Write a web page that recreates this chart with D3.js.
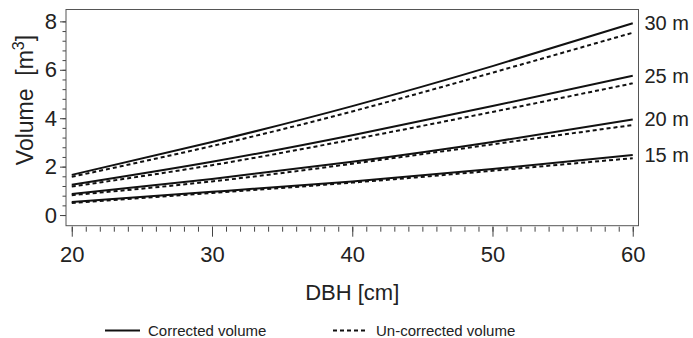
<!DOCTYPE html>
<html>
<head>
<meta charset="utf-8">
<script src="https://cdn.jsdelivr.net/npm/d3@7"></script>
<style>
  body { margin: 0; background: #fff; }
  text { font-family: "Liberation Sans", Arial, sans-serif; fill: #222; }
  .axis path { display: none; }
  .axis line { stroke: #444; }
</style>
</head>
<body>
<script>
// Chart values
var dbh = [20, 30, 40, 50, 60];
var heights = ["15 m", "20 m", "25 m", "30 m"];

var corrected = [
    [0.54, 0.96, 1.39, 1.90, 2.48],
    [0.87, 1.49, 2.20, 3.02, 3.95],
    [1.25, 2.20, 3.30, 4.50, 5.75],
    [1.66, 3.02, 4.50, 6.15, 7.92]
];
var uncorrected = [
    [0.50, 0.91, 1.34, 1.83, 2.35],
    [0.82, 1.39, 2.12, 2.92, 3.72],
    [1.18, 2.06, 3.12, 4.26, 5.44],
    [1.58, 2.85, 4.28, 5.88, 7.53]
];

var xMajor = [20, 30, 40, 50, 60];
var yMajor = [0, 2, 4, 6, 8];
var legendLabels = ["Corrected volume", "Un-corrected volume"];

// Set up the SVG
var svg_width = 693;
var svg_height = 338;

var svg = d3.select("body").append("svg")
    .attr("width", svg_width)
    .attr("height", svg_height)
    .attr("font-family", "Liberation Sans, Arial, sans-serif");

// Plot box
var box = { left: 66, right: 638.5, top: 9.5, bottom: 225.7 };

var x = d3.scaleLinear()
    .domain([19.59, 60.41])
    .range([box.left, box.right]);

var y = d3.scaleLinear()
    .domain([-0.44, 8.49])
    .range([box.bottom, box.top]);

// Minor and major ticks on the x axis
svg.append("g")
    .attr("class", "axis")
    .attr("transform", "translate(0," + (box.bottom + 1) + ")")
    .call(d3.axisBottom(x).tickValues(d3.range(20, 61, 1)).tickSize(5).tickFormat(""));

var xAxis = svg.append("g")
    .attr("class", "axis")
    .attr("transform", "translate(0," + (box.bottom + 1) + ")")
    .call(d3.axisBottom(x).tickValues(xMajor).tickSize(10).tickPadding(10));
xAxis.selectAll("text")
    .style("font-size", "22px")
    .attr("fill", "#222");

// Minor and major ticks on the y axis
svg.append("g")
    .attr("class", "axis")
    .attr("transform", "translate(" + box.left + ",0)")
    .call(d3.axisLeft(y).tickValues(d3.range(0, 8.01, 0.4)).tickSize(3.5).tickFormat(""));

var yAxis = svg.append("g")
    .attr("class", "axis")
    .attr("transform", "translate(" + box.left + ",0)")
    .call(d3.axisLeft(y).tickValues(yMajor).tickSize(6).tickPadding(3));
yAxis.selectAll("text")
    .style("font-size", "22px")
    .attr("fill", "#222");

// Frame around the plot
svg.append("rect")
    .attr("x", box.left)
    .attr("y", box.top)
    .attr("width", box.right - box.left)
    .attr("height", box.bottom - box.top)
    .attr("fill", "none")
    .attr("stroke", "#555")
    .attr("stroke-width", 1);

// Lines
var line = d3.line()
    .x(function(d, i) { return x(dbh[i]); })
    .y(function(d) { return y(d); })
    .curve(d3.curveNatural);

svg.selectAll(".uncorrected")
    .data(uncorrected)
    .enter()
    .append("path")
    .attr("class", "uncorrected")
    .attr("d", line)
    .attr("fill", "none")
    .attr("stroke", "#111")
    .attr("stroke-width", 2)
    .attr("stroke-dasharray", "4,3");

svg.selectAll(".corrected")
    .data(corrected)
    .enter()
    .append("path")
    .attr("class", "corrected")
    .attr("d", line)
    .attr("fill", "none")
    .attr("stroke", "#111")
    .attr("stroke-width", 2);

// Height labels at the right end of the lines
svg.selectAll(".height-label")
    .data(heights)
    .enter()
    .append("text")
    .attr("class", "height-label")
    .attr("x", box.right + 6)
    .attr("y", function(d, i) {
        var last = corrected[i].length - 1;
        return y(corrected[i][last]) + 7;
    })
    .style("font-size", "20px")
    .text(function(d) { return d; });

// Axis titles
svg.append("text")
    .attr("x", x(40))
    .attr("y", 300)
    .attr("text-anchor", "middle")
    .style("font-size", "22px")
    .text("DBH [cm]");

var ylab = svg.append("text")
    .attr("transform", "translate(33," + 100 + ") rotate(-90)")
    .attr("text-anchor", "middle")
    .style("font-size", "23px");
ylab.append("tspan").text("Volume\u00a0\u00a0[m");
ylab.append("tspan").attr("dy", -9).style("font-size", "16px").text("3");
ylab.append("tspan").attr("dy", 9).text("]");

// Legend
var legend = svg.append("g")
    .attr("transform", "translate(0,330.5)");

var legendX = [105, 333];
legend.selectAll(".legend-line")
    .data(legendLabels)
    .enter()
    .append("line")
    .attr("x1", function(d, i) { return legendX[i]; })
    .attr("x2", function(d, i) { return legendX[i] + 35; })
    .attr("stroke", "#111")
    .attr("stroke-width", 2)
    .attr("stroke-dasharray", function(d, i) { return i === 0 ? null : "4,3"; });

legend.selectAll(".legend-text")
    .data(legendLabels)
    .enter()
    .append("text")
    .attr("x", function(d, i) { return legendX[i] + 43; })
    .attr("y", 5)
    .style("font-size", "15px")
    .text(function(d) { return d; });
</script>
</body>
</html>
